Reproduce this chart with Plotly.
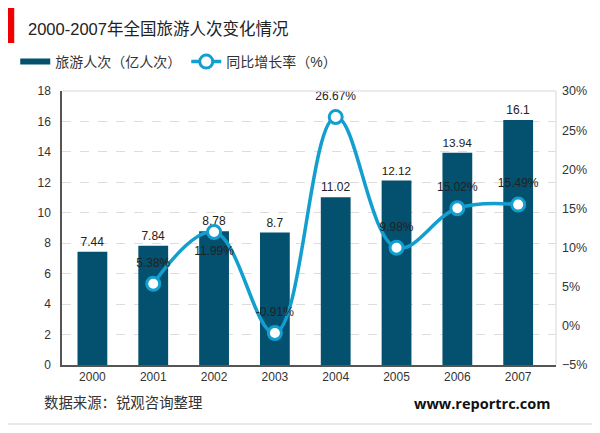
import plotly.graph_objects as go

years = ["2000", "2001", "2002", "2003", "2004", "2005", "2006", "2007"]
visits = [7.44, 7.84, 8.78, 8.7, 11.02, 12.12, 13.94, 16.1]
growth_years = ["2001", "2002", "2003", "2004", "2005", "2006", "2007"]
growth = [5.38, 11.99, -0.91, 26.67, 9.98, 15.02, 15.49]
growth_labels = ["5.38%", "11.99%", "-0.91%", "26.67%", "9.98%", "15.02%", "15.49%"]
growth_label_pos = ["top center", "bottom center", "top center", "top center",
                    "top center", "top center", "top center"]

FONT = "Liberation Sans, Noto Sans CJK SC, sans-serif"
BAR_COLOR = "#03506f"
LINE_COLOR = "#129fcf"
# the page adds an 8px body margin, so margins are 8px less on the left and top
W, H = 600, 433
PW, PH = 486, 274

fig = go.Figure()
fig.add_trace(go.Bar(
    x=years, y=visits, showlegend=False,
    marker=dict(color=BAR_COLOR, line=dict(width=0)),
    width=0.49,
    text=[str(v) for v in visits], textposition="outside",
    textfont=dict(size=12, color="#222222"), cliponaxis=False,
))
# legend key only, the bar's own key is a small square
fig.add_trace(go.Scatter(
    x=[None], y=[None], mode="lines", name="旅游人次（亿人次）",
    line=dict(color=BAR_COLOR, width=6),
))
fig.add_trace(go.Scatter(
    x=growth_years, y=growth, name="同比增长率（%）", yaxis="y2",
    mode="lines+markers",
    line=dict(color=LINE_COLOR, width=3.5, shape="spline", smoothing=1.1),
    marker=dict(size=13, color="white", line=dict(color=LINE_COLOR, width=3)),
    cliponaxis=False,
))
# labels sit a bit further out than the marker size would put them
fig.add_trace(go.Scatter(
    x=growth_years, y=growth, yaxis="y2", showlegend=False,
    mode="markers+text",
    marker=dict(size=21, color="rgba(0,0,0,0)"),
    text=growth_labels, textposition=growth_label_pos,
    textfont=dict(size=12, color="#222222"), cliponaxis=False,
))

fig.update_layout(
    width=W, height=H, margin=dict(l=54, r=52, t=83, b=76, autoexpand=False),
    paper_bgcolor="white", plot_bgcolor="white",
    font=dict(family=FONT, size=12, color="#333333"),
    title=dict(text="2000-2007年全国旅游人次变化情况", x=20 / W, xanchor="left",
               y=1 - 21 / H, yanchor="middle", font=dict(size=16.5, color="#222222")),
    legend=dict(orientation="h", x=-46 / PW, y=1 + 29 / PH, yanchor="middle",
                font=dict(size=14, color="#333333"),
                itemwidth=30, bgcolor="rgba(0,0,0,0)"),
    bargap=0.5, showlegend=True,
    xaxis=dict(type="category", showgrid=False, showline=True, linecolor="#555555", linewidth=1.5,
               ticks="", tickfont=dict(size=12)),
    yaxis=dict(range=[0, 18], dtick=2, showline=True, linecolor="#555555", linewidth=1.5,
               gridcolor="#dddddd", griddash="dash", gridwidth=1, ticks="", tickfont=dict(size=12),
               zeroline=False, ticklabelstandoff=7),
    yaxis2=dict(range=[-5, 30], dtick=5, overlaying="y", side="right", showgrid=False,
                ticksuffix="%", zeroline=False, ticks="", tickfont=dict(size=12.5),
                ticklabelstandoff=5),
    shapes=[
        # card border
        dict(type="rect", xref="paper", yref="paper", x0=-56 / PW, x1=1 + 42 / PW,
             y0=-59 / PH, y1=1 + 84 / PH, line=dict(color="#e4e4e4", width=1.5)),
        # red title mark
        dict(type="rect", xref="paper", yref="paper", x0=-56 / PW, x1=-47 / PW,
             y0=1 + 48 / PH, y1=1 + 84 / PH, fillcolor="#f00000", line=dict(width=0)),
        # plot frame top and right
        dict(type="line", xref="paper", yref="paper", x0=0, x1=1, y0=1, y1=1,
             line=dict(color="#e4e4e4", width=1.5)),
        dict(type="line", xref="paper", yref="paper", x0=1, x1=1, y0=0, y1=1,
             line=dict(color="#e4e4e4", width=1.5)),
    ],
    annotations=[
        dict(text="数据来源：锐观咨询整理", xref="paper", yref="paper", x=-20 / PW, y=-38 / PH,
             xanchor="left", yanchor="middle", showarrow=False, font=dict(size=14.4, color="#333333")),
        dict(text="<b>www.reportrc.com</b>", xref="paper", yref="paper", x=482 / PW, y=-38 / PH,
             xanchor="right", yanchor="middle", showarrow=False,
             font=dict(size=14.5, color="#111111", family="Open Sans, sans-serif")),
    ],
)

fig.write_html("out.html")
